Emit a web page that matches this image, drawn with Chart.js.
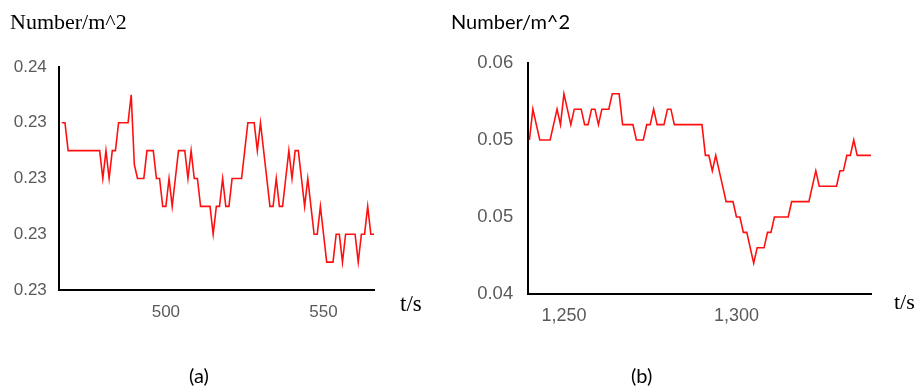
<!DOCTYPE html>
<html><head><meta charset="utf-8">
<script src="https://cdn.jsdelivr.net/npm/chart.js@4.4.1/dist/chart.umd.min.js"></script>
<style>
html,body{margin:0;padding:0;background:#fff;width:918px;height:387px;overflow:hidden;position:relative}
.c{position:absolute;top:0;width:459px;height:387px}
.t{position:absolute;white-space:nowrap;line-height:1;color:#000}
</style></head><body>
<div class="c" style="left:0"><canvas id="ca" width="459" height="387"></canvas></div>
<div class="c" style="left:459px"><canvas id="cb" width="459" height="387"></canvas></div>
<div class="t" style="left:10px;top:11px;font-family:'Liberation Serif';font-size:22px">Number/m^2</div>
<div class="t" style="left:451px;top:11px;font-family:Lato;font-size:20px">Number/m^2</div>
<div class="t" style="left:400px;top:292px;font-family:'Liberation Serif';font-size:23px">t/s</div>
<div class="t" style="left:894px;top:291px;font-family:'Liberation Serif';font-size:22px">t/s</div>
<div class="t" style="left:189px;top:365px;font-family:Lato;font-size:20px">(a)</div>
<div class="t" style="left:631px;top:365px;font-family:Lato;font-size:20px">(b)</div>
<script>
// ---- chart (a) ----
const timeA = [467,468,469,470,471,472,473,474,475,476,477,478,479,480,481,482,483,484,485,486,487,488,489,490,491,492,493,494,495,496,497,498,499,500,501,502,503,504,505,506,507,508,509,510,511,512,513,514,515,516,517,518,519,520,521,522,523,524,525,526,527,528,529,530,531,532,533,534,535,536,537,538,539,540,541,542,543,544,545,546,547,548,549,550,551,552,553,554,555,556,557,558,559,560,561,562,563,564,565,566];
const valuesA = [0.234,0.234,
 0.2335,0.2335,0.2335,0.2335,0.2335,0.2335,0.2335,0.2335,0.2335,0.2335,0.2335,
 0.233,0.2335,0.233,0.2335,0.2335,
 0.234,0.234,0.234,0.234,
 0.2345,0.23325,
 0.233,0.233,0.233,
 0.2335,0.2335,0.2335,
 0.233,0.233,
 0.2325,0.2325,
 0.233,0.2325,0.233,
 0.2335,0.2335,0.2335,
 0.233,0.2335,
 0.233,0.233,
 0.2325,0.2325,0.2325,0.2325,
 0.232,
 0.2325,0.2325,
 0.233,
 0.2325,0.2325,
 0.233,0.233,0.233,0.233,
 0.2335,
 0.234,0.234,0.234,
 0.2335,0.234,0.2335,0.233,
 0.2325,0.2325,
 0.233,
 0.2325,0.2325,
 0.233,0.2335,0.233,
 0.2335,0.2335,
 0.233,0.2325,0.233,0.2325,
 0.232,0.232,
 0.2325,0.232,
 0.2315,0.2315,0.2315,
 0.232,0.232,
 0.2315,
 0.232,0.232,0.232,0.232,
 0.2315,
 0.232,0.232,
 0.2325,
 0.232,0.232];
const yTicksA = [0.231,0.232,0.233,0.234,0.235];
const yLabelsA = ["0.23","0.23","0.23","0.23","0.24"];
const xTicksA = [500,550];
const xLabelsA = ["500","550"];

// ---- chart (b) ----
const timeB = [1240,1241,1242,1243,1244,1245,1246,1247,1248,1249,1250,1251,1252,1253,1254,1255,1256,1257,1258,1259,1260,1261,1262,1263,1264,1265,1266,1267,1268,1269,1270,1271,1272,1273,1274,1275,1276,1277,1278,1279,1280,1281,1282,1283,1284,1285,1286,1287,1288,1289,1290,1291,1292,1293,1294,1295,1296,1297,1298,1299,1300,1301,1302,1303,1304,1305,1306,1307,1308,1309,1310,1311,1312,1313,1314,1315,1316,1317,1318,1319,1320,1321,1322,1323,1324,1325,1326,1327,1328,1329,1330,1331,1332,1333,1334,1335,1336,1337,1338,1339];
const valuesB = [
 0.0545,0.0565,0.0555,0.0545,0.0545,0.0545,0.0545,0.0555,0.0565,0.0555,
 0.0575,0.0565,0.0555,0.0565,0.0565,0.0565,0.0555,0.0555,0.0565,0.0565,
 0.0555,0.0565,0.0565,0.0565,0.0575,0.0575,0.0575,0.0555,0.0555,0.0555,
 0.0555,0.0545,0.0545,0.0545,0.0555,0.0555,0.0565,0.0555,0.0555,0.0555,
 0.0565,0.0565,0.0555,0.0555,0.0555,0.0555,0.0555,0.0555,0.0555,0.0555,
 0.0555,0.0535,0.0535,0.0525,0.0535,0.0525,0.0515,0.0505,0.0505,0.0505,
 0.0495,0.0495,0.0485,0.0485,0.0475,0.0465,0.0475,0.0475,0.0475,0.0485,
 0.0485,0.0495,0.0495,0.0495,0.0495,0.0495,0.0505,0.0505,0.0505,0.0505,
 0.0505,0.0505,0.0515,0.0525,0.0515,0.0515,0.0515,0.0515,0.0515,0.0515,
 0.0525,0.0525,0.0535,0.0535,0.0545,0.0535,0.0535,0.0535,0.0535,0.0535];
const yTicksB = [0.0445,0.0495,0.0545,0.0595];
const yLabelsB = ["0.04","0.05","0.05","0.06"];
const xTicksB = [1250,1300];
const xLabelsB = ["1,250","1,300"];

function makeChart(id, times, values, o) {
  return new Chart(document.getElementById(id), {
    type: 'line',
    data: { datasets: [{
      data: times.map((t, i) => ({ x: t, y: values[i] })),
      borderColor: '#ff1010', borderWidth: 1.6, pointRadius: 0, tension: 0, fill: false
    }]},
    options: {
      responsive: false, animation: false, devicePixelRatio: 1,
      layout: { padding: { left: 0, top: o.top, right: o.right, bottom: 0 } },
      plugins: { legend: { display: false }, tooltip: { enabled: false } },
      scales: {
        x: {
          type: 'linear', min: o.xmin, max: o.xmax,
          grid: { display: false, drawTicks: false },
          border: { display: true, color: '#000', width: 2 },
          ticks: { font: { family: 'Liberation Sans', size: o.xfs }, color: '#5a5a5a', padding: o.xpad, maxRotation: 0,
                   callback: (v, i) => o.xLabels[i] },
          afterBuildTicks: s => { s.ticks = o.xTicks.map(v => ({ value: v })); },
          afterFit: s => { s.height = o.xh; }
        },
        y: {
          min: o.yTicks[0], max: o.yTicks[o.yTicks.length - 1],
          grid: { display: false, drawTicks: false },
          border: { display: true, color: '#000', width: 2 },
          ticks: { font: { family: 'Liberation Sans', size: o.yfs }, color: '#5a5a5a', padding: o.ypad,
                   callback: (v, i) => o.yLabels[i] },
          afterBuildTicks: s => { s.ticks = o.yTicks.map(v => ({ value: v })); },
          afterFit: s => { s.width = o.yw; }
        }
      }
    }
  });
}

makeChart('ca', timeA, valuesA, {
  top: 67, right: 85, xmin: 466.2, xmax: 566, xh: 97, yw: 59.3,
  xTicks: xTicksA, xLabels: xLabelsA, yTicks: yTicksA, yLabels: yLabelsA,
  xfs: 17, yfs: 17, xpad: 12, ypad: 12.5
});
makeChart('cb', timeB, valuesB, {
  top: 63, right: 46.3, xmin: 1239.5, xmax: 1339.2, xh: 93, yw: 68.7,
  xTicks: xTicksB, xLabels: xLabelsB, yTicks: yTicksB, yLabels: yLabelsB,
  xfs: 18, yfs: 18.5, xpad: 11.5, ypad: 14.5
});
</script>
</body></html>
